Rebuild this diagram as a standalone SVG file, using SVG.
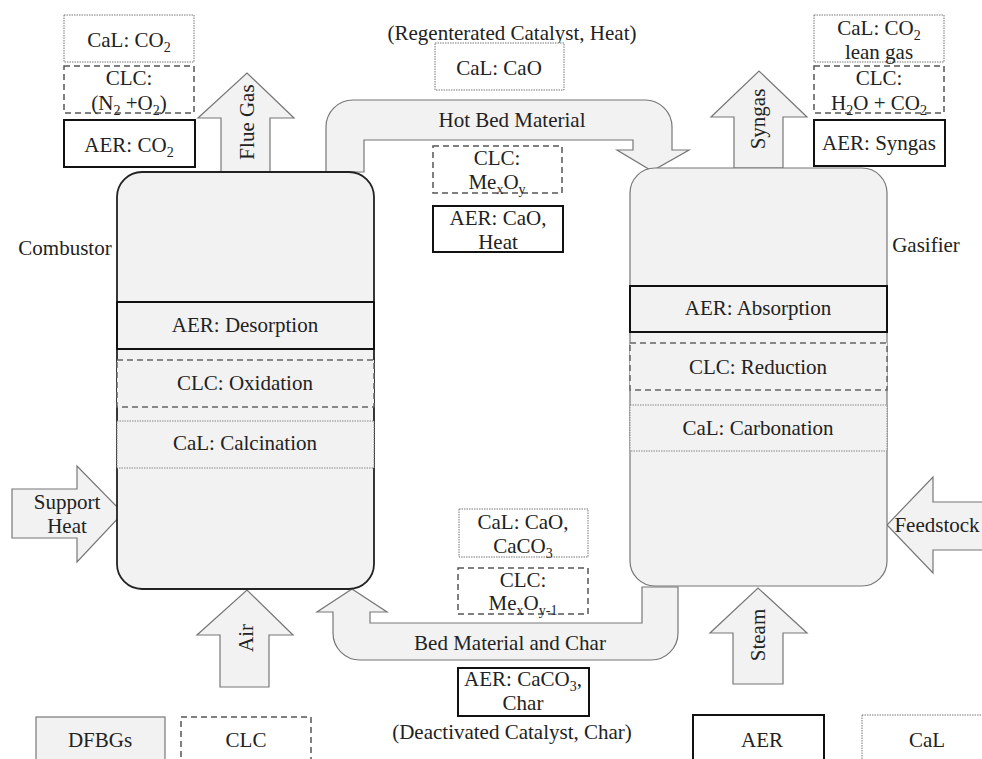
<svg xmlns="http://www.w3.org/2000/svg" width="982" height="759" viewBox="0 0 982 759" font-family="'Liberation Serif', 'Times New Roman', 'DejaVu Serif', serif">
<style>
text{font-family:'Liberation Serif','Times New Roman','DejaVu Serif',serif;font-size:21px;fill:#222;text-anchor:middle}
.sub{font-size:14px}
.aer{fill:#fff;stroke:#111;stroke-width:2}
.clc{fill:#fff;stroke:#555;stroke-width:1.5;stroke-dasharray:6 4}
.cal{fill:#fff;stroke:#777;stroke-width:1;stroke-dasharray:1.5 1}
.vessel{fill:#f2f2f2}
.arrow{fill:#f2f2f2;stroke:#777;stroke-width:1.2;stroke-linejoin:miter}
.rot{dominant-baseline:central}
</style>
<rect width="982" height="759" fill="#fff"/>

<g id="connectors">
  <g id="flue-gas"><polygon class="arrow" points="221,172 221,118 198,118 247,73 294,118 270,118 270,172"/>
    <text class="rot" transform="rotate(-90 247 122)" x="247" y="122">Flue Gas</text></g>
  <g id="syngas"><polygon class="arrow" points="734,168 734,117 711,117 759,71 807,117 783,117 783,168"/>
    <text class="rot" transform="rotate(-90 758 119)" x="758" y="119">Syngas</text></g>
  <g id="air"><polygon class="arrow" points="220,687 220,635 197,635 247,590 293,635 269,635 269,687"/>
    <text class="rot" transform="rotate(-90 246 638)" x="246" y="638">Air</text></g>
  <g id="steam"><polygon class="arrow" points="733,684 733,633 710,633 758,588 807,633 783,633 783,684"/>
    <text class="rot" transform="rotate(-90 758 635)" x="758" y="635">Steam</text></g>
  <g id="support-heat"><polygon class="arrow" points="12,489 77,489 77,466 123,513 77,562 77,538 12,538"/>
    <text x="67" y="509">Support</text><text x="67" y="533">Heat</text></g>
  <g id="feedstock"><polygon class="arrow" points="992,502 933,502 933,477 887,525 933,573 933,550 992,550"/>
    <text x="937" y="532">Feedstock</text></g>
  <g id="hot-bed"><path class="arrow" d="M326,172 V127 A27,27 0 0 1 353,100 H645 A27,27 0 0 1 672,127 V150 H689 L652,171 L617,150 H633 V140 H364 V172 Z"/>
    <text x="512" y="127">Hot Bed Material</text></g>
  <g id="bed-char"><path class="arrow" d="M678,587 V633 A27,27 0 0 1 651,660 H360 A27,27 0 0 1 333,633 V612 H317 L352,589 L387,612 H370 V623 H642 V587 Z"/>
    <text x="510" y="650">Bed Material and Char</text></g>
</g>

<g id="combustor">
  <rect class="vessel" x="117" y="172" width="257" height="417" rx="25" stroke="#222" stroke-width="1.8"/>
  <rect x="117" y="302" width="257" height="47" fill="#f2f2f2" stroke="#111" stroke-width="2"/>
  <rect x="117" y="360" width="257" height="47" fill="#f2f2f2" stroke="#666" stroke-width="1.5" stroke-dasharray="6 4"/>
  <rect x="117" y="421" width="257" height="47" fill="#f2f2f2" stroke="#888" stroke-width="1" stroke-dasharray="1.5 1"/>
  <text x="245" y="332">AER: Desorption</text>
  <text x="245" y="390">CLC: Oxidation</text>
  <text x="245" y="450">CaL: Calcination</text>
  <text x="65" y="255">Combustor</text>
</g>

<g id="gasifier">
  <rect class="vessel" x="630" y="168" width="257" height="418" rx="25" stroke="#777" stroke-width="1.2"/>
  <rect x="630" y="286" width="257" height="46" fill="#f2f2f2" stroke="#111" stroke-width="2"/>
  <rect x="630" y="343" width="257" height="47" fill="#f2f2f2" stroke="#666" stroke-width="1.5" stroke-dasharray="6 4"/>
  <rect x="630" y="405" width="257" height="46" fill="#f2f2f2" stroke="#888" stroke-width="1" stroke-dasharray="1.5 1"/>
  <text x="758" y="315">AER: Absorption</text>
  <text x="758" y="374">CLC: Reduction</text>
  <text x="758" y="435">CaL: Carbonation</text>
  <text x="926" y="252">Gasifier</text>
</g>

<g id="flue-gas-cal"><rect class="cal" x="64" y="15" width="130" height="47"/><text x="129" y="47">CaL: CO<tspan class="sub" dy="5">2</tspan></text></g>
<g id="flue-gas-clc"><rect class="clc" x="64" y="66" width="130" height="47"/><text x="129" y="85">CLC:</text><text x="129" y="110">(N<tspan class="sub" dy="5">2</tspan><tspan dy="-5"> +O</tspan><tspan class="sub" dy="5">2</tspan><tspan dy="-5">)</tspan></text></g>
<g id="flue-gas-aer"><rect class="aer" x="64" y="120" width="131" height="47"/><text x="129" y="152">AER: CO<tspan class="sub" dy="5">2</tspan></text></g>

<g id="syngas-cal"><rect class="cal" x="814" y="15" width="130" height="47"/><text x="879" y="35">CaL: CO<tspan class="sub" dy="5">2</tspan></text><text x="879" y="59">lean gas</text></g>
<g id="syngas-clc"><rect class="clc" x="814" y="66" width="130" height="47"/><text x="879" y="85">CLC:</text><text x="879" y="110">H<tspan class="sub" dy="5">2</tspan><tspan dy="-5">O + CO</tspan><tspan class="sub" dy="5">2</tspan></text></g>
<g id="syngas-aer"><rect class="aer" x="814" y="120" width="131" height="46"/><text x="879" y="150">AER: Syngas</text></g>

<g id="regen-label"><text x="512" y="40">(Regenterated Catalyst, Heat)</text></g>
<g id="hot-cal"><rect class="cal" x="435" y="43" width="129" height="47"/><text x="499" y="75">CaL: CaO</text></g>
<g id="hot-clc"><rect class="clc" x="433" y="146" width="129" height="47"/><text x="497" y="165">CLC:</text><text x="497" y="189">Me<tspan class="sub" dy="5">x</tspan><tspan dy="-5">O</tspan><tspan class="sub" dy="5">y</tspan></text></g>
<g id="hot-aer"><rect class="aer" x="433" y="206" width="130" height="46"/><text x="498" y="225">AER: CaO,</text><text x="498" y="249">Heat</text></g>

<g id="bed-cal"><rect class="cal" x="459" y="509" width="129" height="48"/><text x="523" y="529">CaL: CaO,</text><text x="523" y="553">CaCO<tspan class="sub" dy="5">3</tspan></text></g>
<g id="bed-clc"><rect class="clc" x="458" y="568" width="130" height="46"/><text x="523" y="587">CLC:</text><text x="523" y="610">Me<tspan class="sub" dy="5">x</tspan><tspan dy="-5">O</tspan><tspan class="sub" dy="5">y-1</tspan></text></g>
<g id="bed-aer"><rect class="aer" x="458" y="668" width="131" height="48"/><text x="523" y="686">AER: CaCO<tspan class="sub" dy="5">3</tspan><tspan dy="-5">,</tspan></text><text x="523" y="710">Char</text></g>
<g id="deact-label"><text x="512" y="739">(Deactivated Catalyst, Char)</text></g>

<g id="legend-dfbgs"><rect x="36" y="717" width="129" height="60" fill="#f2f2f2" stroke="#777" stroke-width="1.2"/><text x="100" y="747">DFBGs</text></g>
<g id="legend-clc"><rect class="clc" x="181" y="717" width="130" height="60"/><text x="246" y="747">CLC</text></g>
<g id="legend-aer"><rect class="aer" x="693" y="715" width="131" height="62"/><text x="762" y="747">AER</text></g>
<g id="legend-cal"><rect class="cal" x="862" y="715" width="130" height="62"/><text x="927" y="747">CaL</text></g>
</svg>
